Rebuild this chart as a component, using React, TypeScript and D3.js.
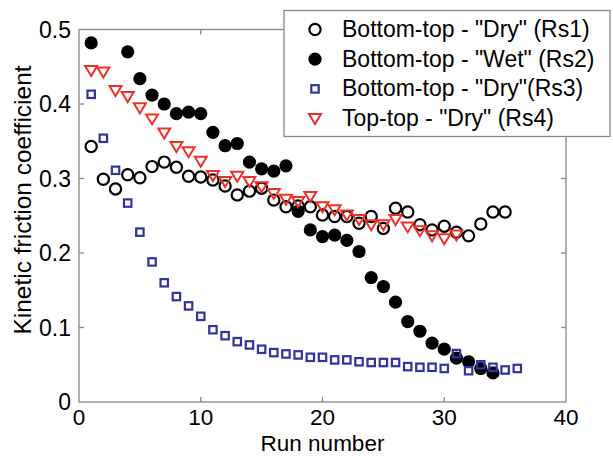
import * as d3 from 'd3';
import React, { useRef, useEffect } from 'react';

// run numbers + friction values
const runsRs1 = [1, 2, 3, 4, 5, 6, 7, 8, 9, 10, 11, 12, 13, 14, 15, 16, 17, 18, 19, 20, 21, 22, 23, 24, 25, 26, 27, 28, 29, 30, 31, 32, 33, 34, 35]
const valuesRs1 = [0.343, 0.299, 0.286, 0.305, 0.301, 0.316, 0.322, 0.315, 0.303, 0.302, 0.298, 0.290, 0.278, 0.283, 0.287, 0.271, 0.262, 0.263, 0.262, 0.251, 0.249, 0.249, 0.240, 0.249, 0.233, 0.260, 0.255, 0.238, 0.231, 0.236, 0.228, 0.223, 0.239, 0.255, 0.255]

const runsRs2 = [1, 4, 5, 6, 7, 8, 9, 10, 11, 12, 13, 14, 15, 16, 17, 18, 19, 20, 21, 22, 23, 24, 25, 26, 27, 28, 29, 30, 31, 32, 33, 34]
const valuesRs2 = [0.482, 0.470, 0.434, 0.412, 0.400, 0.387, 0.389, 0.387, 0.362, 0.344, 0.347, 0.322, 0.313, 0.310, 0.317, 0.256, 0.231, 0.222, 0.224, 0.217, 0.202, 0.167, 0.155, 0.134, 0.108, 0.095, 0.079, 0.071, 0.059, 0.054, 0.045, 0.039]

const runsRs3 = [1, 2, 3, 4, 5, 6, 7, 8, 9, 10, 11, 12, 13, 14, 15, 16, 17, 18, 19, 20, 21, 22, 23, 24, 25, 26, 27, 28, 29, 30, 31, 32, 33, 34, 35, 36]
const valuesRs3 = [0.413, 0.354, 0.311, 0.267, 0.228, 0.188, 0.160, 0.1415, 0.129, 0.115, 0.097, 0.089, 0.081, 0.0766, 0.0708, 0.0663, 0.0645, 0.0632, 0.060, 0.060, 0.0565, 0.0565, 0.054, 0.053, 0.053, 0.053, 0.0475, 0.0466, 0.0466, 0.045, 0.065, 0.042, 0.050, 0.0466, 0.043, 0.045]

const runsRs4 = [1, 2, 3, 4, 5, 6, 7, 8, 9, 10, 11, 12, 13, 14, 15, 16, 17, 18, 19, 20, 21, 22, 23, 24, 25, 26, 27, 28, 29, 30, 31]
const valuesRs4 = [0.445, 0.443, 0.418, 0.410, 0.395, 0.380, 0.361, 0.343, 0.336, 0.323, 0.304, 0.296, 0.303, 0.296, 0.289, 0.280, 0.272, 0.269, 0.276, 0.262, 0.258, 0.251, 0.245, 0.238, 0.238, 0.245, 0.235, 0.230, 0.223, 0.219, 0.224]

const seriesLabels = ['Bottom-top - "Dry" (Rs1)', 'Bottom-top - "Wet" (Rs2)', 'Bottom-top - "Dry"(Rs3)', 'Top-top - "Dry" (Rs4)']
const xTicks = [0, 10, 20, 30, 40]
const yTicks = [0, 0.1, 0.2, 0.3, 0.4, 0.5]

const BLUE = '#3232a0'
const RED = '#ee3128'
const AXIS = '#888888'
const FONT = 'Arial, "Liberation Sans", Helvetica, sans-serif'

export default function App() {
  const ref = useRef<HTMLDivElement>(null)

  useEffect(() => {
    d3.select(ref.current).selectAll('svg').remove()

    const W = 613
    const H = 456
    const left = 79, right = 566, top = 29.5, bottom = 402

    const svg = d3.select(ref.current)
      .append('svg')
      .attr('width', W)
      .attr('height', H)
      .style('display', 'block')
      .style('font-family', FONT)

    svg.append('rect').attr('width', W).attr('height', H).attr('fill', '#fff')

    const x = d3.scaleLinear().domain([0, 40]).range([left, right])
    const y = d3.scaleLinear().domain([0, 0.5]).range([bottom, top])

    // box
    svg.append('rect')
      .attr('x', left).attr('y', top)
      .attr('width', right - left).attr('height', bottom - top)
      .attr('fill', 'none').attr('stroke', AXIS).attr('stroke-width', 1.3)

    // inward ticks on all four sides
    const tl = 5
    const tickG = svg.append('g').attr('stroke', AXIS).attr('stroke-width', 1.3)
    xTicks.slice(1, -1).forEach(t => {
      tickG.append('line').attr('x1', x(t)).attr('x2', x(t)).attr('y1', bottom).attr('y2', bottom - tl)
      tickG.append('line').attr('x1', x(t)).attr('x2', x(t)).attr('y1', top).attr('y2', top + tl)
    })
    yTicks.slice(1, -1).forEach(t => {
      tickG.append('line').attr('x1', left).attr('x2', left + tl).attr('y1', y(t)).attr('y2', y(t))
      tickG.append('line').attr('x1', right).attr('x2', right - tl).attr('y1', y(t)).attr('y2', y(t))
    })

    svg.append('g').selectAll('text')
      .data(xTicks)
      .enter().append('text')
      .attr('x', d => x(d))
      .attr('y', 424.5)
      .attr('text-anchor', 'middle')
      .style('font-size', '22.5px')
      .text(d => String(d))

    svg.append('g').selectAll('text')
      .data(yTicks)
      .enter().append('text')
      .attr('x', left - 8)
      .attr('y', d => y(d) + 8)
      .attr('text-anchor', 'end')
      .style('font-size', '23px')
      .text(d => d === 0 ? '0' : d3.format('.1f')(d))

    svg.append('text')
      .attr('x', (left + right) / 2)
      .attr('y', 450.5)
      .attr('text-anchor', 'middle')
      .style('font-size', '22.5px')
      .text('Run number')

    svg.append('text')
      .attr('transform', `translate(31, 200) rotate(-90)`)
      .attr('text-anchor', 'middle')
      .style('font-size', '24.5px')
      .text('Kinetic friction coefficient')

    const tri = 'M-6,-4.5L6,-4.5L0,5.5Z'

    const drawOpenCircle = (g, cx, cy) => g.append('circle').attr('cx', cx).attr('cy', cy).attr('r', 5.6)
      .attr('fill', 'none').attr('stroke', '#000').attr('stroke-width', 2.2)
    const drawFilled = (g, cx, cy) => g.append('circle').attr('cx', cx).attr('cy', cy).attr('r', 6.6).attr('fill', '#000')
    const drawSquare = (g, cx, cy) => g.append('rect').attr('x', cx - 3.7).attr('y', cy - 3.7).attr('width', 7.4).attr('height', 7.4)
      .attr('fill', 'none').attr('stroke', BLUE).attr('stroke-width', 2.2)
    const drawTri = (g, cx, cy) => g.append('path').attr('d', tri).attr('transform', `translate(${cx},${cy})`)
      .attr('fill', 'none').attr('stroke', RED).attr('stroke-width', 2).attr('stroke-linejoin', 'miter')

    const series = [
      { runs: runsRs1, vals: valuesRs1, draw: drawOpenCircle },
      { runs: runsRs2, vals: valuesRs2, draw: drawFilled },
      { runs: runsRs3, vals: valuesRs3, draw: drawSquare },
      { runs: runsRs4, vals: valuesRs4, draw: drawTri },
    ]

    series.forEach(s => {
      const g = svg.append('g')
      s.runs.forEach((r, i) => s.draw(g, x(r), y(s.vals[i])))
    })

    // legend
    const lg = svg.append('g')
    lg.append('rect')
      .attr('x', 284).attr('y', 10.5)
      .attr('width', 326).attr('height', 126)
      .attr('fill', '#fff').attr('stroke', AXIS).attr('stroke-width', 1.3)
    seriesLabels.forEach((label, i) => {
      const cy = 29.5 + i * 29.7
      series[i].draw(lg, 315, cy)
      lg.append('text')
        .attr('x', 342)
        .attr('y', cy + 7.5)
        .style('font-size', '23px')
        .text(label)
    })
  }, [])

  return (
    <div ref={ref} style={{ position: 'absolute', left: 0, top: 0 }}>
    </div>
  )
}
